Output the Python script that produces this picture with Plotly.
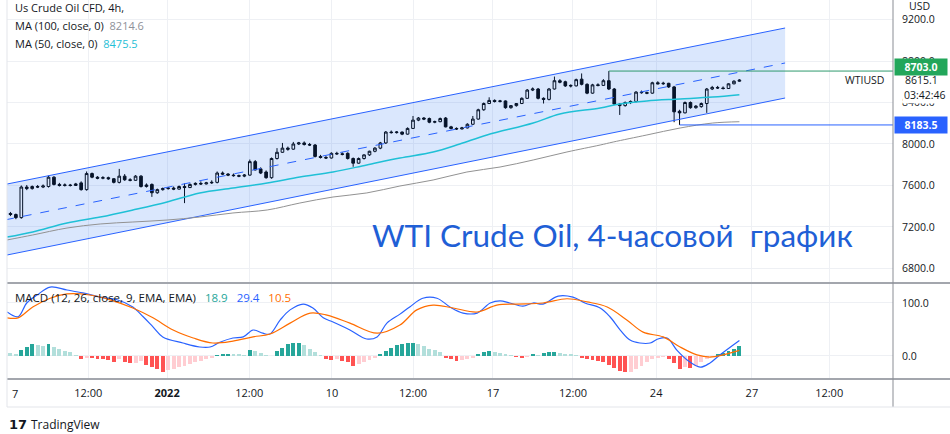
import plotly.graph_objects as go
from plotly.subplots import make_subplots

# ---------------- data ----------------
opens = [7345, 7330, 7320, 7290, 7585, 7570, 7590, 7585, 7590, 7680,
         7610, 7600, 7605, 7600, 7625, 7560, 7715, 7680, 7670, 7675,
         7665, 7630, 7690, 7655, 7650, 7690, 7590, 7610, 7530, 7560,
         7570, 7575, 7565, 7590, 7580, 7610, 7620, 7615, 7625, 7630,
         7720, 7710, 7700, 7695, 7690, 7700, 7830, 7760, 7730, 7675,
         7860, 7920, 7960, 7950, 8000, 8010, 7995, 7990, 7880, 7870,
         7865, 7910, 7905, 7910, 7860, 7815, 7860, 7895, 7930, 7960,
         8010, 8115, 8110, 8115, 8095, 8150, 8230, 8250, 8245, 8210,
         8215, 8250, 8165, 8150, 8145, 8155, 8190, 8240, 8330, 8390,
         8420, 8410, 8415, 8350, 8370, 8390, 8440, 8520, 8530, 8440,
         8430, 8530, 8610, 8600, 8565, 8560, 8625, 8575, 8490, 8570,
         8565, 8610, 8530, 8385, 8370, 8400, 8410, 8500, 8495, 8490,
         8590, 8580, 8585, 8550, 8315, 8300, 8400, 8350, 8360, 8390,
         8530, 8545, 8540, 8535, 8580, 8605]
highs = [7365, 7345, 7330, 7600, 7605, 7600, 7605, 7610, 7695, 7690,
         7625, 7620, 7615, 7625, 7640, 7735, 7725, 7690, 7690, 7685,
         7670, 7760, 7710, 7670, 7700, 7700, 7620, 7620, 7570, 7580,
         7585, 7590, 7600, 7620, 7620, 7630, 7640, 7635, 7650, 7735,
         7735, 7720, 7715, 7705, 7710, 7850, 7845, 7775, 7745, 7870,
         7960, 8010, 7975, 8020, 8020, 8025, 8010, 8000, 7895, 7885,
         7920, 7925, 7920, 7920, 7870, 7870, 7900, 7935, 7970, 8020,
         8125, 8130, 8125, 8120, 8160, 8270, 8260, 8260, 8255, 8225,
         8255, 8260, 8175, 8160, 8165, 8200, 8270, 8340, 8400, 8450,
         8430, 8425, 8420, 8375, 8395, 8450, 8530, 8545, 8540, 8450,
         8540, 8650, 8625, 8610, 8575, 8630, 8680, 8585, 8580, 8585,
         8625, 8703, 8540, 8395, 8410, 8420, 8510, 8515, 8505, 8600,
         8605, 8600, 8590, 8560, 8330, 8410, 8410, 8375, 8400, 8540,
         8560, 8560, 8555, 8585, 8615, 8625]
lows = [7320, 7305, 7275, 7280, 7555, 7560, 7575, 7575, 7580, 7600,
        7590, 7590, 7590, 7595, 7550, 7550, 7670, 7660, 7660, 7655,
        7620, 7620, 7645, 7640, 7645, 7580, 7580, 7490, 7520, 7550,
        7560, 7555, 7560, 7430, 7575, 7600, 7605, 7610, 7615, 7620,
        7700, 7690, 7685, 7680, 7680, 7695, 7745, 7710, 7665, 7665,
        7850, 7915, 7935, 7945, 7990, 7985, 7980, 7870, 7860, 7855,
        7860, 7895, 7890, 7850, 7780, 7810, 7850, 7885, 7920, 7950,
        8000, 8100, 8100, 8085, 8090, 8145, 8220, 8230, 8200, 8200,
        8210, 8160, 8140, 8135, 8140, 8150, 8185, 8235, 8320, 8385,
        8400, 8400, 8340, 8340, 8360, 8385, 8435, 8510, 8430, 8390,
        8420, 8525, 8585, 8550, 8545, 8555, 8565, 8480, 8485, 8555,
        8560, 8520, 8375, 8280, 8360, 8385, 8400, 8485, 8480, 8485,
        8575, 8570, 8540, 8210, 8183.5, 8295, 8340, 8340, 8350, 8300,
        8520, 8530, 8525, 8530, 8575, 8600]
closes = [7330, 7320, 7290, 7585, 7570, 7590, 7585, 7595, 7680, 7610,
          7600, 7605, 7600, 7615, 7560, 7715, 7680, 7670, 7675, 7665,
          7630, 7690, 7655, 7650, 7690, 7590, 7605, 7530, 7560, 7570,
          7575, 7565, 7590, 7580, 7610, 7620, 7615, 7625, 7630, 7720,
          7710, 7700, 7695, 7690, 7700, 7830, 7750, 7720, 7675, 7860,
          7920, 7960, 7950, 8000, 8010, 7995, 7990, 7880, 7870, 7865,
          7910, 7905, 7900, 7860, 7815, 7860, 7895, 7930, 7960, 8010,
          8115, 8110, 8115, 8095, 8150, 8230, 8250, 8240, 8210, 8215,
          8245, 8165, 8150, 8145, 8155, 8190, 8240, 8330, 8390, 8420,
          8410, 8415, 8350, 8370, 8390, 8440, 8520, 8530, 8440, 8430,
          8530, 8610, 8595, 8560, 8560, 8620, 8575, 8490, 8570, 8565,
          8610, 8530, 8385, 8370, 8400, 8410, 8500, 8495, 8490, 8590,
          8580, 8585, 8550, 8310, 8300, 8400, 8350, 8365, 8390, 8530,
          8545, 8540, 8535, 8580, 8605, 8615.1]
bars = list(range(len(closes)))

# moving averages (bar index, value)
ma50_x = [0.4, 5.1, 11.4, 17.5, 23.5, 29.8, 35.8, 41.9, 48.2, 54.2, 60.3, 66.5,
          72.6, 78.7, 83.6, 88.6, 97.1, 102, 109.4, 113, 118, 124.1, 130.1, 135]
ma50_v = [7103, 7152, 7238, 7296, 7364, 7441, 7528, 7576, 7624, 7682, 7730, 7798,
          7865, 7923, 8000, 8087, 8202, 8289, 8347, 8386, 8415, 8434, 8453, 8475.5]
ma100_x = [0.4, 5.1, 11.4, 17.5, 23.5, 29.8, 35.8, 41.9, 48.2, 54.2, 60.3, 66.5,
           72.6, 78.7, 84.9, 91, 97.1, 103.3, 109.4, 111.8, 118, 124.1, 130.1, 135]
ma100_v = [7075, 7123, 7190, 7229, 7248, 7267, 7296, 7335, 7364, 7431, 7489, 7528,
           7595, 7653, 7730, 7778, 7846, 7923, 7990, 8019, 8087, 8154, 8202, 8214.6]

# parallel channel (bar index, price)
chan_x = [0, 143.4]
chan_upper = [7610, 9118]
chan_mid = [7268, 8781]
chan_lower = [6926, 8443]

# horizontal rays
ray_hi_start, ray_hi = 111, 8703.0
ray_lo_start, ray_lo = 124, 8183.5

# MACD
macd_x = [0.4, 2.4, 4.0, 5.9, 8.3, 11.4, 14.3, 17.5, 20.6, 23.5, 25.4, 27.2, 29.0,
          32.7, 35.8, 37.7, 39.5, 41.9, 43.8, 45.6, 47.4, 48.7, 50.6, 52.4, 54.8,
          56.6, 58.5, 60.3, 63.4, 66.5, 68.4, 70.2, 72.6, 74.4, 76.8, 79.4, 81.8,
          84.2, 86.8, 89.2, 91.0, 92.8, 95.2, 97.1, 98.9, 101.7, 104.4, 106.6,
          109.4, 111.2, 113.1, 114.9, 116.7, 118.6, 120.0, 121.7, 123.5, 125.4,
          127.8, 129.6, 131.4, 135]
macd_v = [83, 74, 100, 115, 130, 124.5, 119, 111, 106, 92.5, 74, 55, 36, 24.5, 17,
          17, 26, 34, 36, 49, 43, 41.5, 68, 87, 98, 90.5, 72, 64, 49, 32, 36, 62,
          79, 92.5, 109, 109, 92.5, 81, 81, 100, 104, 100, 94, 100, 98, 113, 111,
          100, 90.5, 74, 49, 30, 24.5, 24.5, 32, 34, 11, -7.5, -21, -13, 2, 29.4]
sig_x = [0.4, 2.4, 5.1, 8.3, 11.4, 15.6, 19.3, 23.5, 27.2, 30.9, 34.6, 38.2, 41.9,
         45.6, 48.7, 52.4, 56.1, 59.2, 63.4, 68.4, 72.6, 75.7, 78.7, 82.4, 86.8,
         90.4, 94.1, 98.9, 103.3, 107.0, 110.7, 114.3, 117.3, 121.0, 124.1, 127.2,
         129.6, 132.0, 135]
sig_v = [72, 72, 92.5, 109, 117, 115, 106, 90.5, 72, 49, 34, 24.5, 28, 36, 41.5,
         62, 81, 77, 62, 43, 58.5, 87, 96, 90.5, 83, 96, 98, 100, 108, 102, 92.5,
         68, 45, 36, 17, 2, -2, 2, 10.5]
hist_v = [8, 5, 3, 12, 17, 22, 20, 18, 22, 17, 13, 10, 7, 2, -5, -3, -4, -5, -6, -7,
          -12, -6, -12, -13, -13, -10, -17, -20, -24, -30, -27, -24, -21, -18, -15,
          -12, -9, -6, -3, 2, 3, 4, 3, 3, 2, 12, 9, 5, 2, 0.5, 10, 15, 22, 24, 25,
          20, 14, 8, 2, -5, -8, -6, -10, -12, -19, -16, -12, -8, -4, 3, 10, 15, 20,
          23, 24, 25, 22, 18, 14, 11, 7, -3, -6, -10, -8, -6, -3, 3, 7, 10, 8, 6,
          3, 2, -2, -3, -1, 4, 2, 5, 7, 8, 6, 4, 3, 2, -3, -6, -8, -10, -11, -17,
          -22, -28, -31, -30, -24, -18, -12, -6, -3, -2, -6, -14, -25, -20, -22,
          -18, -12, -6, -2, 3, 6, 10, 14, 18.9]

# axis ticks
time_ticks = [15.3, 29.8, 44.9, 60.1, 75, 89.7, 104.4, 119.7, 137.3, 151.5]
time_labels = ["12:00", "<b>2022</b>", "12:00", "10", "12:00", "17", "12:00", "24", "27", "12:00"]
price_ticks = [6800, 7200, 7600, 8000, 8400, 8800, 9200]
macd_ticks = [0, 100]

# ---------------- layout geometry ----------------
W, H = 950, 434
ML, MR, MT, MB = 7, 57, 0, 55
PW = W - ML - MR
PH = H - MT - MB


def fx(px):
    return (px - ML) / PW


def fy(py):
    return (MT + PH - py) / PH


FONT = "Open Sans"
TXT = "#131722"

fig = make_subplots(rows=2, cols=1, shared_xaxes=True, vertical_spacing=0,
                    row_heights=[283, 96])

# channel
fig.add_trace(go.Scatter(x=[chan_x[0], chan_x[1], chan_x[1], chan_x[0]],
                         y=[chan_upper[0], chan_upper[1], chan_lower[1], chan_lower[0]],
                         fill="toself", fillcolor="rgba(33,110,243,0.17)",
                         line=dict(width=0), mode="lines", hoverinfo="skip"), row=1, col=1)
for yy, dash in ((chan_upper, "solid"), (chan_lower, "solid"), (chan_mid, "dash")):
    fig.add_trace(go.Scatter(x=chan_x, y=yy, mode="lines",
                             line=dict(color="#2962ff", width=1, dash=dash),
                             hoverinfo="skip"), row=1, col=1)

# moving averages
fig.add_trace(go.Scatter(x=ma100_x, y=ma100_v, mode="lines", line_shape="spline",
                         line=dict(color="#929292", width=1)), row=1, col=1)
fig.add_trace(go.Scatter(x=ma50_x, y=ma50_v, mode="lines", line_shape="spline",
                         line=dict(color="#1fc0d6", width=1.5)), row=1, col=1)

# rays
fig.add_trace(go.Scatter(x=[ray_hi_start, 200], y=[ray_hi, ray_hi], mode="lines",
                         line=dict(color="#2f9a6e", width=1)), row=1, col=1)
fig.add_trace(go.Scatter(x=[ray_lo_start, 200], y=[ray_lo, ray_lo], mode="lines",
                         line=dict(color="#2962ff", width=1)), row=1, col=1)

# candles
fig.add_trace(go.Candlestick(x=bars, open=opens, high=highs, low=lows, close=closes,
                             increasing=dict(line=dict(color="#000000", width=1), fillcolor="#ffffff"),
                             decreasing=dict(line=dict(color="#000000", width=1), fillcolor="#000000"),
                             whiskerwidth=0), row=1, col=1)

# MACD histogram colours by TradingView rule
hcols = []
for i, v in enumerate(hist_v):
    prev = hist_v[i - 1] if i > 0 else v
    if v >= 0:
        hcols.append("#26a69a" if v > prev else "#b2dfdb")
    else:
        hcols.append("#ff5252" if v < prev else "#ffcdd2")
fig.add_trace(go.Bar(x=bars, y=hist_v, marker=dict(color=hcols, line=dict(width=0)),
                     width=0.72), row=2, col=1)
fig.add_trace(go.Scatter(x=macd_x, y=macd_v, mode="lines", line_shape="spline",
                         line=dict(color="#2962ff", width=1.2)), row=2, col=1)
fig.add_trace(go.Scatter(x=sig_x, y=sig_v, mode="lines", line_shape="spline",
                         line=dict(color="#ff6d00", width=1.2)), row=2, col=1)

xr = [(ML - 5) / 5.44, (ML + PW - 5) / 5.44]
grid = "#eef0f4"
fig.update_xaxes(range=xr, tickvals=time_ticks, ticktext=time_labels, showgrid=True,
                 gridcolor=grid, zeroline=False, showline=False, ticks="",
                 rangeslider_visible=False, fixedrange=True)
fig.update_xaxes(showticklabels=False, row=1, col=1)
fig.update_xaxes(showticklabels=True, tickfont=dict(family=FONT, size=11, color=TXT),
                 ticklabelstandoff=6, row=2, col=1)

fig.update_yaxes(side="right", showgrid=True, gridcolor=grid, zeroline=False,
                 ticks="", showline=False, tickfont=dict(family=FONT, size=10.5, color=TXT),
                 ticklabelstandoff=8, fixedrange=True)
fig.update_yaxes(range=[6660, 9388], tickvals=price_ticks,
                 ticktext=[f"{v:.1f}" for v in price_ticks], row=1, col=1)
fig.update_yaxes(range=[-43.4, 137.7], tickvals=macd_ticks,
                 ticktext=[f"{v:.1f}" for v in macd_ticks], row=2, col=1)

shapes = [
    # pane separators
    dict(type="line", xref="paper", yref="paper", x0=0, x1=fx(W), y0=fy(283), y1=fy(283),
         line=dict(color="#a3a6ad", width=2)),
    dict(type="line", xref="paper", yref="paper", x0=0, x1=fx(W), y0=fy(379), y1=fy(379),
         line=dict(color="#a3a6ad", width=2)),
    # price-axis border
    dict(type="line", xref="paper", yref="paper", x0=1, x1=1, y0=fy(407), y1=1,
         line=dict(color="#8a8d94", width=1)),
    # outer frame
    dict(type="line", xref="paper", yref="paper", x0=0, x1=0, y0=fy(407), y1=1,
         line=dict(color="#e3e5ea", width=1)),
    dict(type="line", xref="paper", yref="paper", x0=0, x1=fx(W), y0=fy(407), y1=fy(407),
         line=dict(color="#e3e5ea", width=1)),
]

ann = []


def text(x, y, s, size=11, color=TXT, xa="left", family=FONT, **kw):
    ann.append(dict(xref="paper", yref="paper", x=fx(x), y=fy(y), text=s, showarrow=False,
                    xanchor=xa, yanchor="middle", font=dict(family=family, size=size, color=color), **kw))


text(13, 8, "Us Crude Oil CFD, 4h,", 11)
text(13, 25, 'MA (100, close, 0)  <span style="color:#8e9199">8214.6</span>', 11)
text(13, 43, 'MA (50, close, 0)  <span style="color:#1fc0d6">8475.5</span>', 11)
text(13, 297, 'MACD (12, 26, close, 9, EMA, EMA)   <span style="color:#26a69a">18.9</span>   '
     '<span style="color:#2962ff">29.4</span>   <span style="color:#ff6d00">10.5</span>', 11.5)
text(612, 235, "WTI Crude Oil, 4-часовой  график", 31.5, "#1f5fd6", xa="center", family="Lato")
text(10, 393, "7", 11)
text(919, 6, "USD", 10.5, xa="center")
text(886, 80, "WTIUSD", 10.5, xa="right")
text(903, 80, "8615.1", 10.5)
text(902, 95, "03:42:46", 10.5, bgcolor="#ffffff")
text(894, 67, "<b>8703.0</b>", 10.5, "#ffffff", bgcolor="#22a65a", width=50, height=14, align="center")
text(894, 125, "<b>8183.5</b>", 10.5, "#ffffff", bgcolor="#2962ff", width=50, height=14, align="center")
text(7, 424, "<b>17</b>", 13, TXT, family="DejaVu Sans")
text(29, 424, "TradingView", 12, TXT)

fig.update_layout(width=W, height=H, margin=dict(l=ML, r=MR, t=MT, b=MB),
                  paper_bgcolor="#ffffff", plot_bgcolor="#ffffff", showlegend=False,
                  shapes=shapes, annotations=ann, bargap=0, hovermode=False)

fig.write_html("out.html", config={"displayModeBar": False, "staticPlot": True},
               post_script="document.body.style.margin='0px';")
